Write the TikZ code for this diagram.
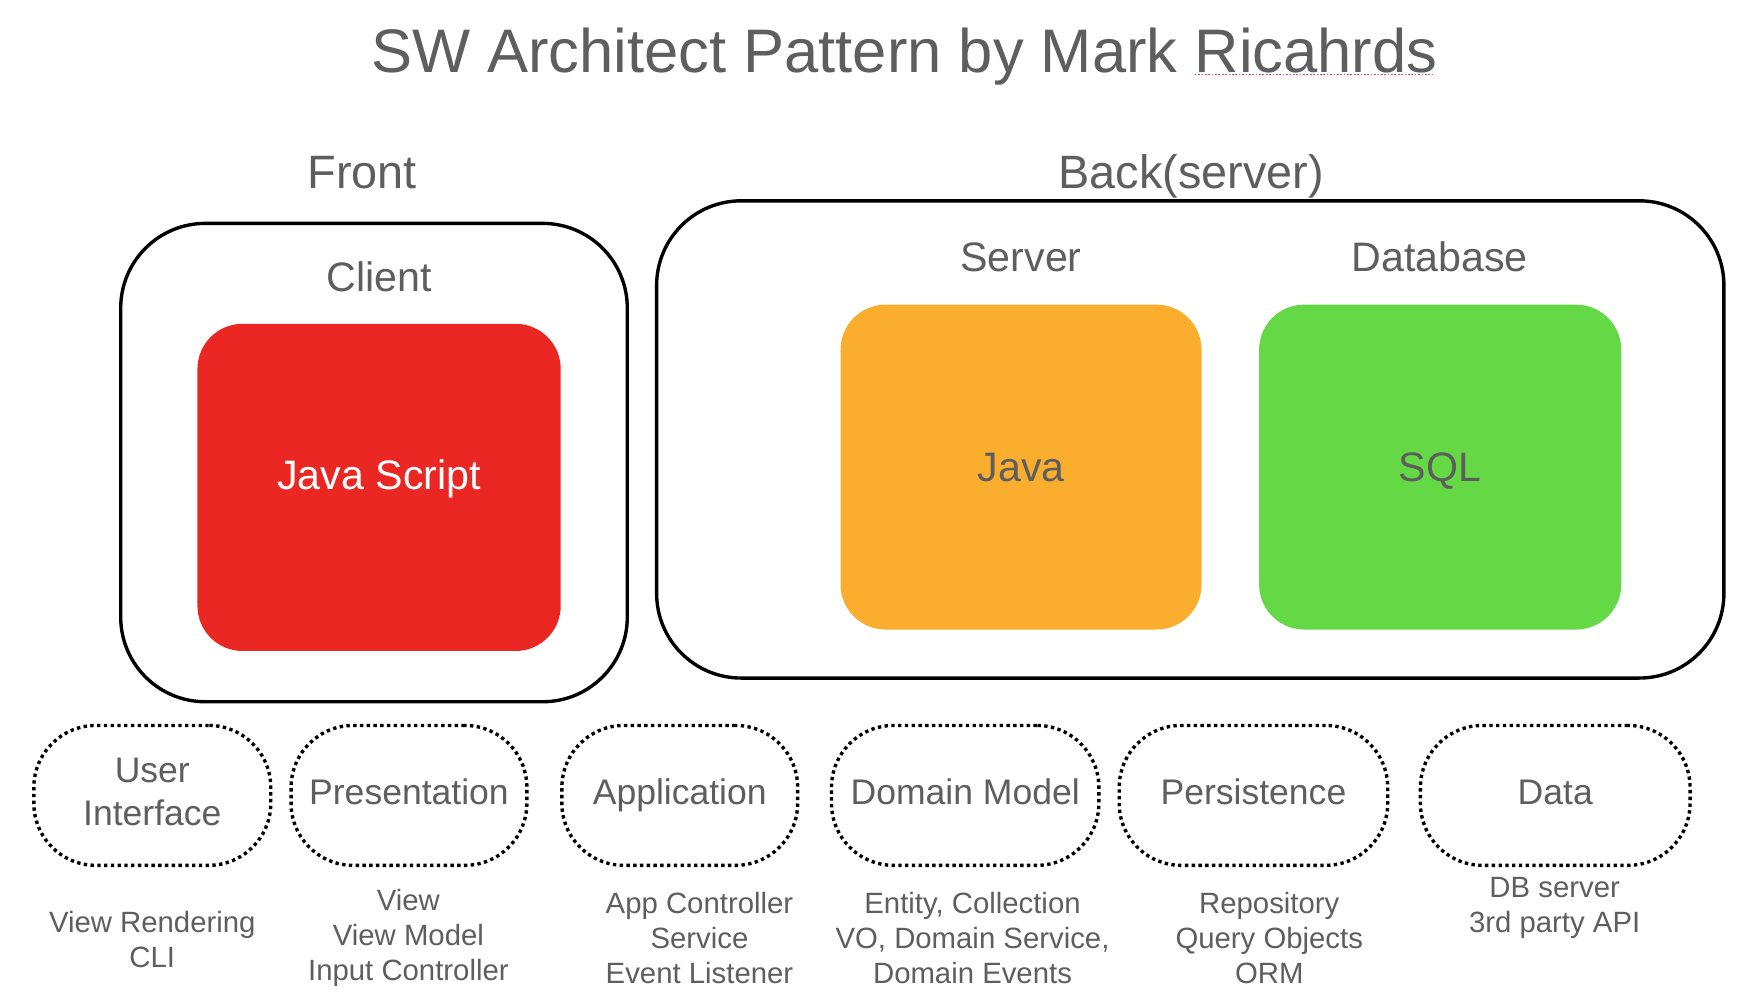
\documentclass[tikz,border=0pt]{standalone}
\usepackage{fontspec}
\setmainfont{Liberation Sans}
\definecolor{txtgray}{HTML}{5E5E5E}
\definecolor{jsred}{HTML}{EA2722}
\definecolor{javaorange}{HTML}{FBAD2E}
\definecolor{sqlgreen}{HTML}{64D845}
\definecolor{spellred}{HTML}{E2474B}
\begin{document}
\begin{tikzpicture}[x=1pt,y=1pt,yscale=-1,xscale=1,
  groupbox/.style={draw=black, line width=3pt, rounded corners=75pt, inner sep=0pt, outer sep=0pt},
  langbox/.style={rounded corners=40pt, inner sep=0pt, outer sep=0pt, minimum width=321pt, minimum height=289pt, text height=26pt, text depth=0pt, font=\fontsize{36.5}{40}\selectfont},
  layerbox/.style={draw=black, line width=3pt, dash pattern=on 3pt off 3pt, rounded corners=55pt, minimum height=124pt, inner sep=0pt, text height=23pt, text depth=7pt, align=center, text=txtgray, font=\fontsize{31.5}{38}\selectfont},
  lbl/.style={text=txtgray, inner sep=0pt, anchor=base},
  note/.style={text=txtgray, align=center, inner sep=0pt, font=\fontsize{26}{31}\selectfont}]
%set diagram left start at 0, and has height of 883
\useasboundingbox (0,0) rectangle (1560,883);

% Title
\node [lbl, font=\fontsize{54.5}{60}\selectfont] (title) at (801.5,64) {SW Architect Pattern by Mark Ricahrds};
\draw [spellred, line width=1.5pt, dash pattern=on 1.5pt off 1.5pt] (1059,66) -- (1270,66);

% Text Node
\node [lbl, font=\fontsize{41.5}{46}\selectfont] (front) at (321,167) {Front};
% Text Node
\node [lbl, font=\fontsize{41.5}{46}\selectfont] (back) at (1056,167) {Back(server)};

% Rounded Rect
\node [groupbox, minimum width=449pt, minimum height=424pt] (frontbox) at (331.5,410) {};
% Rounded Rect
\node [groupbox, minimum width=946pt, minimum height=423pt] (backbox) at (1055,389.5) {};

% Text Node
\node [lbl, font=\fontsize{36.5}{40}\selectfont] (client) at (336,258) {Client};
\node [lbl, font=\fontsize{36.5}{40}\selectfont] (server) at (905,241) {Server};
\node [lbl, font=\fontsize{36.5}{40}\selectfont] (database) at (1276,241) {Database};

% Rounded Rect
\node [langbox, fill=jsred, text=white, minimum width=322pt, minimum height=290pt, text depth=22pt] (jscript) at (336,432) {Java Script};
\node [langbox, fill=javaorange, text=txtgray, minimum width=320pt, minimum height=288pt] (java) at (905,414) {Java};
\node [langbox, fill=sqlgreen, text=txtgray, minimum height=288pt] (sql) at (1276.5,414) {SQL};

% Dotted layers
\node [layerbox, minimum width=210pt, text height=61pt] (ui) at (135,705) {User\\Interface};
\node [layerbox, minimum width=209pt] (pres) at (362.5,705) {Presentation};
\node [layerbox, minimum width=209pt] (app) at (602.5,705) {Application};
\node [layerbox, minimum width=237pt] (domain) at (855.5,705) {Domain Model};
\node [layerbox, minimum width=238pt] (persist) at (1111,705) {Persistence};
\node [layerbox, minimum width=239pt] (data) at (1378.5,705) {Data};

% Text Node
\node [note] (uinote) at (135,833) {View Rendering\\CLI};
\node [note] (presnote) at (362,831) {View\\View Model\\Input Controller};
\node [note] (appnote) at (620,831) {App Controller\\Service\\Event Listener};
\node [note] (domainnote) at (862,831) {Entity, Collection\\VO, Domain Service,\\Domain Events};
\node [note] (persistnote) at (1125,831) {Repository\\Query Objects\\ORM};
\node [note] (datanote) at (1378,805) {DB server\\3rd party API};

\end{tikzpicture}
\end{document}
